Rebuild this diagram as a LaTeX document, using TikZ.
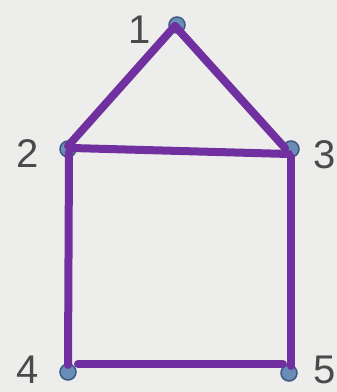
\documentclass[tikz,border=0pt]{standalone}
\usepackage{fontspec}
\setmainfont{Liberation Sans}
\definecolor{bgc}{HTML}{EDEDEB}
\definecolor{housepurple}{HTML}{7030A0}
\definecolor{dotblue}{HTML}{6A8DB8}
\definecolor{dotedge}{HTML}{3E5A80}
\definecolor{labelgrey}{HTML}{4A4A4A}
\begin{document}
\begin{tikzpicture}[x=1pt,y=-1pt,
  pt/.style={circle,fill=dotblue,draw=dotedge,line width=1.5pt,minimum size=16pt,inner sep=0pt},
  num/.style={text=labelgrey,font=\fontsize{40}{40}\selectfont,inner sep=0pt},
  edge/.style={draw=housepurple,line width=8pt,line cap=round}]
\fill[bgc] (0,0) rectangle (337,392);
\useasboundingbox (0,0) rectangle (337,392);
\clip (0,0) rectangle (337,392);
% dots
\node[pt] (p1) at (177,25) {};
\node[pt] (p2) at (68,149) {};
\node[pt] (p3) at (291,149) {};
\node[pt] (p4) at (68,372) {};
\node[pt] (p5) at (289,373) {};
% labels
\node[num] (l1) at (140,30) {1};
\node[num] (l2) at (28,154) {2};
\node[num] (l3) at (325,155) {3};
\node[num] (l4) at (28,370) {4};
\node[num] (l5) at (325,370) {5};
% line vertices
\coordinate (a1) at (175,26);
\coordinate (a2) at (68,146);
\coordinate (a3) at (289,154);
\coordinate (a4) at (68,365);
\coordinate (a5) at (291,366);
\coordinate (b2) at (69,152);
\coordinate (b4) at (78,364);
\coordinate (b5) at (283,364);
\coordinate (b3) at (291,157);
\coordinate (c2) at (72,148);
\coordinate (c3) at (285,148);
\draw[edge] (a1) -- (a2);
\draw[edge] (a1) -- (c3);
\draw[edge] (c2) -- (a3);
\draw[edge] (b2) -- (a4);
\draw[edge] (b3) -- (a5);
\draw[edge] (b4) -- (b5);
\end{tikzpicture}
\end{document}
